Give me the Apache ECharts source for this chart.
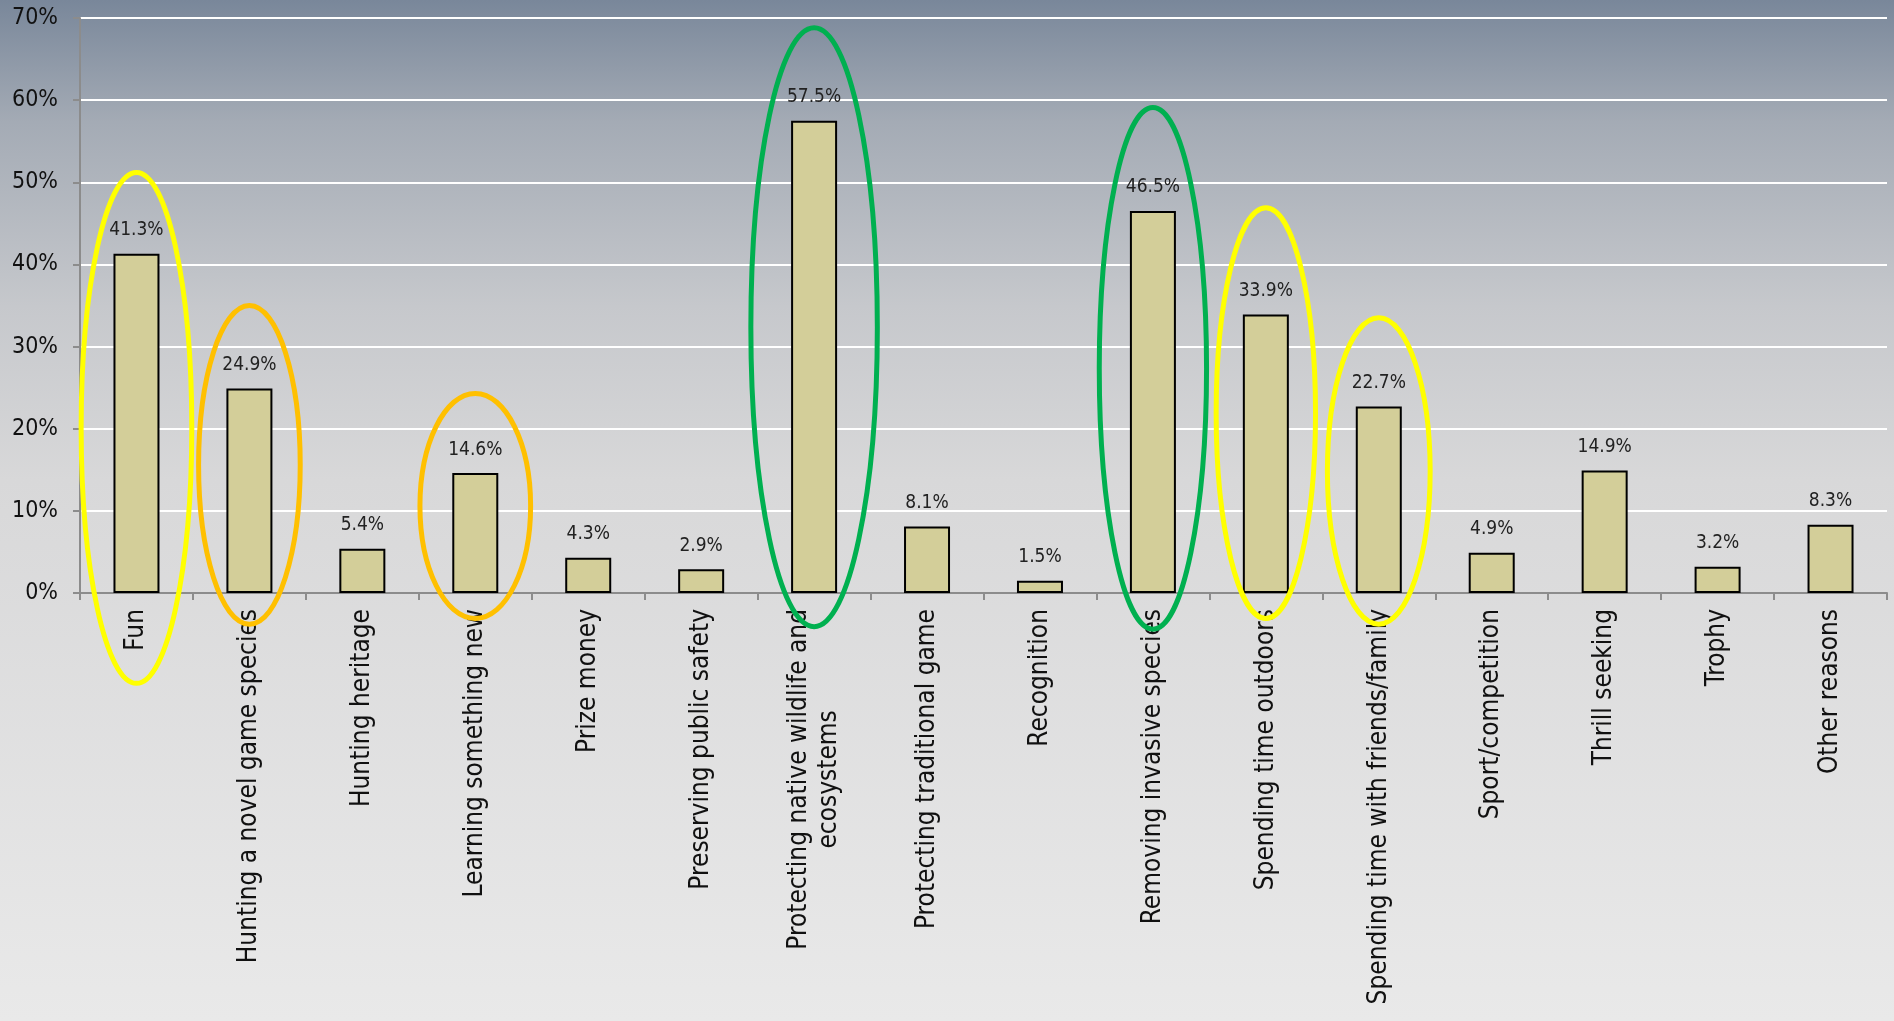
<!DOCTYPE html>
<html>
<head>
<meta charset="utf-8">
<script src="https://cdn.jsdelivr.net/npm/echarts@6/dist/echarts.min.js"></script>
<style>
    html, body { margin: 0; padding: 0; }
    #main { width: 1894px; height: 1021px; }
</style>
</head>
<body>
<div id="main"></div>
<script>
    // reasons given, share of respondents (%)
    var categories = [
        'Fun', 'Hunting a novel game species', 'Hunting heritage', 'Learning something new',
        'Prize money', 'Preserving public safety', 'Protecting native wildlife and\necosystems',
        'Protecting traditional game', 'Recognition', 'Removing invasive species',
        'Spending time outdoors', 'Spending time with friends/family', 'Sport/competition',
        'Thrill seeking', 'Trophy', 'Other reasons'
    ];
    var values = [41.3, 24.9, 5.4, 14.6, 4.3, 2.9, 57.5, 8.1, 1.5, 46.5, 33.9, 22.7, 4.9, 14.9, 3.2, 8.3];

    // hand-drawn rings: category index, top %, bottom %, half width (in categories)
    var ringIndex = [0, 1, 3, 6, 9, 10, 11];
    var ringTop = [51.2, 35.0, 24.3, 68.8, 59.1, 46.9, 33.5];
    var ringBottom = [-11.0, -3.8, -3.1, -4.1, -4.4, -3.1, -3.8];
    var ringHalfWidth = [0.49, 0.45, 0.49, 0.56, 0.475, 0.44, 0.455];
    var ringColor = ['#ffff00', '#ffc000', '#ffc000', '#00b050', '#00b050', '#ffff00', '#ffff00'];

    var yTicks = [0, 10, 20, 30, 40, 50, 60, 70];

    var FONT = '"DejaVu Sans Condensed", "DejaVu Sans", sans-serif';

    var rings = ringIndex.map(function (c, i) {
        return {value: [c, ringTop[i], ringBottom[i], ringHalfWidth[i]], color: ringColor[i]};
    });

    var myChart = echarts.init(document.getElementById('main'));

    var option = {
        backgroundColor: {
            type: 'linear', x: 0, y: 0, x2: 0, y2: 1,
            colorStops: [
                {offset: 0, color: '#79879a'},
                {offset: 0.12, color: '#a4abb5'},
                {offset: 0.3, color: '#c6c8cc'},
                {offset: 0.47, color: '#d8d8d9'},
                {offset: 1, color: '#e9e9e9'}
            ]
        },
        animation: false,
        grid: {left: 80, right: 7, top: 18, bottom: 428, containLabel: false},
        xAxis: {
            type: 'category',
            data: categories,
            axisLine: {lineStyle: {color: '#8c8c8c', width: 2}},
            axisTick: {show: true, length: 7, lineStyle: {color: '#8c8c8c', width: 2}},
            axisLabel: {
                interval: 0,
                rotate: 90,
                margin: 16,
                color: '#111',
                fontFamily: FONT,
                fontSize: 26,
                lineHeight: 30,
                formatter: function (v) {
                    if (v.indexOf('\n') < 0) return v;
                    return v.split('\n').map(function (s) { return '{c|' + s + '}'; }).join('\n');
                },
                rich: {
                    c: {align: 'center', color: '#111', fontFamily: FONT, fontSize: 26, lineHeight: 30}
                }
            }
        },
        yAxis: {
            type: 'value',
            min: 0,
            max: 70,
            interval: 10,
            axisLine: {show: true, lineStyle: {color: '#8c8c8c', width: 2}},
            axisTick: {show: true, length: 7, lineStyle: {color: '#8c8c8c', width: 2}},
            splitLine: {lineStyle: {color: '#ffffff', width: 2}},
            axisLabel: {
                margin: 22,
                color: '#111',
                fontFamily: FONT,
                fontSize: 23,
                customValues: yTicks,
                formatter: '{value}%'
            }
        },
        series: [
            {
                type: 'bar',
                data: values,
                barWidth: 46,
                itemStyle: {color: '#d3ce99', borderColor: '#000', borderWidth: 2},
                label: {
                    show: true,
                    position: 'top',
                    distance: 14,
                    color: '#222',
                    fontFamily: FONT,
                    fontSize: 19,
                    formatter: function (p) { return p.value.toFixed(1) + '%'; }
                }
            },
            {
                type: 'custom',
                clip: false,
                z: 5,
                data: rings,
                renderItem: function (params, api) {
                    var top = api.coord([api.value(0), api.value(1)]);
                    var bot = api.coord([api.value(0), api.value(2)]);
                    var band = api.size([1, 0])[0];
                    return {
                        type: 'ellipse',
                        shape: {
                            cx: top[0],
                            cy: (top[1] + bot[1]) / 2,
                            rx: api.value(3) * band,
                            ry: (bot[1] - top[1]) / 2
                        },
                        style: {fill: 'none', stroke: rings[params.dataIndex].color, lineWidth: 5}
                    };
                }
            }
        ]
    };

    myChart.setOption(option);
</script>
</body>
</html>
